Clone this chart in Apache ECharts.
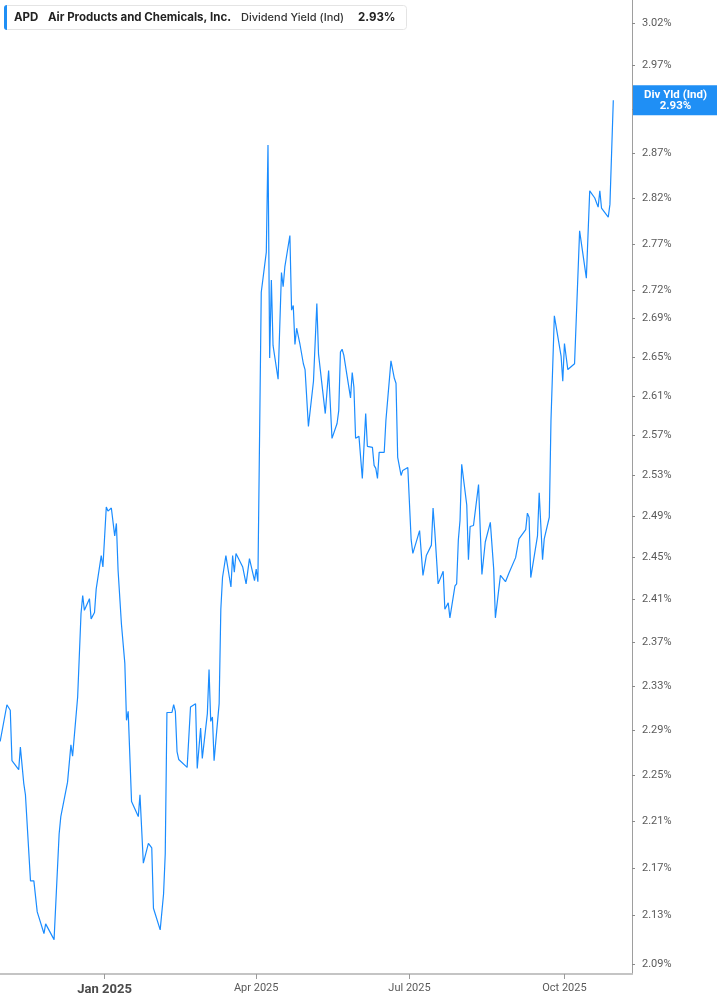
<!DOCTYPE html>
<html><head><meta charset="utf-8">
<script src="https://cdn.jsdelivr.net/npm/echarts@6/dist/echarts.min.js"></script>
<style>html,body{margin:0;padding:0;background:#fff}#c{width:717px;height:1005px}</style>
</head><body><div id="c"></div>
<script>
const ticker = 'APD';
const company = 'Air Products and Chemicals, Inc.';
const metric = 'Dividend Yield (Ind)';
const tagTitle = 'Div Yld (Ind)';

const dates = [
'2024-10-31','2024-11-04','2024-11-06','2024-11-07','2024-11-11','2024-11-12','2024-11-14','2024-11-15','2024-11-18','2024-11-20',
'2024-11-22','2024-11-26','2024-11-27','2024-12-02','2024-12-05','2024-12-06','2024-12-10','2024-12-12','2024-12-13','2024-12-16',
'2024-12-18','2024-12-19','2024-12-20','2024-12-23','2024-12-24','2024-12-26','2024-12-27','2024-12-30','2024-12-31','2025-01-02',
'2025-01-03','2025-01-05','2025-01-07','2025-01-08','2025-01-09','2025-01-11','2025-01-13','2025-01-14','2025-01-15','2025-01-17',
'2025-01-21','2025-01-22','2025-01-24','2025-01-27','2025-01-29','2025-01-30','2025-01-31','2025-02-03','2025-02-05','2025-02-06',
'2025-02-07','2025-02-10','2025-02-11','2025-02-12','2025-02-13','2025-02-14','2025-02-19','2025-02-21','2025-02-24','2025-02-25',
'2025-02-27','2025-02-28','2025-03-03','2025-03-04','2025-03-05','2025-03-06','2025-03-07','2025-03-10','2025-03-11','2025-03-12',
'2025-03-14','2025-03-17','2025-03-18','2025-03-19','2025-03-20','2025-03-24','2025-03-25','2025-03-26','2025-03-27','2025-03-28',
'2025-03-31','2025-04-01','2025-04-02','2025-04-04','2025-04-07','2025-04-08','2025-04-09','2025-04-10','2025-04-11','2025-04-14',
'2025-04-16','2025-04-17','2025-04-18','2025-04-21','2025-04-22','2025-04-23','2025-04-24','2025-04-25','2025-04-27','2025-04-29',
'2025-04-30','2025-05-02','2025-05-05','2025-05-07','2025-05-08','2025-05-12','2025-05-14','2025-05-16','2025-05-19','2025-05-20',
'2025-05-21','2025-05-22','2025-05-23','2025-05-27','2025-05-28','2025-05-29','2025-05-30','2025-06-01','2025-06-03','2025-06-05',
'2025-06-06','2025-06-09','2025-06-10','2025-06-11','2025-06-12','2025-06-13','2025-06-16','2025-06-17','2025-06-20','2025-06-22',
'2025-06-23','2025-06-24','2025-06-26','2025-06-27','2025-06-30','2025-07-02','2025-07-03','2025-07-07','2025-07-09','2025-07-10',
'2025-07-11','2025-07-14','2025-07-15','2025-07-16','2025-07-18','2025-07-21','2025-07-22','2025-07-24','2025-07-25','2025-07-28',
'2025-07-29','2025-07-30','2025-07-31','2025-08-01','2025-08-04','2025-08-05','2025-08-06','2025-08-08','2025-08-11','2025-08-13',
'2025-08-15','2025-08-18','2025-08-20','2025-08-21','2025-08-24','2025-08-25','2025-08-27','2025-08-29','2025-09-02','2025-09-04',
'2025-09-08','2025-09-09','2025-09-10','2025-09-11','2025-09-15','2025-09-16','2025-09-18','2025-09-19','2025-09-22','2025-09-23',
'2025-09-25','2025-09-29','2025-09-30','2025-10-01','2025-10-03','2025-10-07','2025-10-10','2025-10-14','2025-10-16','2025-10-19',
'2025-10-21','2025-10-22','2025-10-23','2025-10-24','2025-10-27','2025-10-28','2025-10-30'
];

const yields = [
2.280,2.313,2.308,2.263,2.255,2.275,2.243,2.233,2.159,2.159,
2.133,2.115,2.123,2.110,2.199,2.214,2.244,2.277,2.267,2.320,
2.397,2.414,2.400,2.411,2.392,2.398,2.420,2.452,2.441,2.499,
2.495,2.498,2.471,2.483,2.438,2.387,2.351,2.299,2.307,2.227,
2.214,2.233,2.174,2.191,2.187,2.136,2.135,2.118,2.148,2.182,
2.306,2.306,2.313,2.307,2.271,2.264,2.257,2.311,2.314,2.256,
2.292,2.265,2.305,2.345,2.298,2.302,2.263,2.314,2.401,2.431,
2.452,2.422,2.452,2.436,2.454,2.441,2.442,2.425,2.426,2.449,
2.428,2.439,2.427,2.718,2.761,2.879,2.649,2.731,2.662,2.627,
2.739,2.724,2.745,2.779,2.699,2.704,2.663,2.680,2.663,2.643,
2.637,2.579,2.625,2.706,2.653,2.592,2.636,2.567,2.582,2.595,
2.655,2.658,2.652,2.608,2.634,2.619,2.567,2.569,2.527,2.592,
2.559,2.558,2.540,2.537,2.527,2.553,2.553,2.585,2.646,2.628,
2.623,2.548,2.530,2.535,2.538,2.467,2.454,2.476,2.433,2.434,
2.452,2.462,2.498,2.476,2.425,2.437,2.401,2.407,2.393,2.423,
2.425,2.467,2.486,2.541,2.501,2.448,2.480,2.481,2.521,2.434,
2.465,2.484,2.439,2.393,2.433,2.434,2.427,2.435,2.450,2.468,
2.477,2.493,2.489,2.431,2.471,2.513,2.448,2.468,2.489,2.585,
2.693,2.651,2.625,2.664,2.637,2.643,2.784,2.733,2.828,2.820,
2.810,2.828,2.809,2.809,2.799,2.813,2.930
];

const yTicks = [2.09,2.13,2.17,2.21,2.25,2.29,2.33,2.37,2.41,2.45,2.49,2.53,2.57,2.61,2.65,2.69,2.72,2.77,2.82,2.87,2.92,2.97,3.02];
const xTickDates = ['2025-01-01','2025-04-01','2025-07-01','2025-10-01'];
const xRange = ['2024-10-30 21:36','2025-11-10 02:24'];
const yRange = [2.0818, 3.0471];

const monthNames = ['Jan','Feb','Mar','Apr','May','Jun','Jul','Aug','Sep','Oct','Nov','Dec'];
const P = s => +echarts.time.parse(s);
const xTicks = xTickDates.map(P);
const last = yields[yields.length - 1];
const blue = '#1a8cff';
const tagBlue = '#1f8ff5';

const chart = echarts.init(document.getElementById('c'), null, {renderer: 'canvas'});
chart.setOption({
  animation: false,
  grid: {left: 0, right: 85, top: 0, bottom: 31, containLabel: false},
  xAxis: {
    type: 'value', min: P(xRange[0]), max: P(xRange[1]),
    axisLine: {show: true, lineStyle: {color: '#c4c4c4', width: 2}},
    axisTick: {show: true, customValues: xTicks, length: 5, lineStyle: {color: '#9a9a9a', width: 1}},
    axisLabel: {
      customValues: xTicks, color: '#5a5a5a', fontSize: 11, fontFamily: 'Roboto', margin: 9,
      formatter: v => { const d = new Date(v); const s = monthNames[d.getMonth()] + ' ' + d.getFullYear(); return d.getMonth() === 0 ? '{y|' + s + '}' : s; },
      rich: {y: {fontWeight: 'bold', fontSize: 13, color: '#4a4a4a', fontFamily: 'Roboto'}}
    },
    splitLine: {show: false}
  },
  yAxis: {
    type: 'log', logBase: 10, position: 'right', min: yRange[0], max: yRange[1],
    axisLine: {show: true, lineStyle: {color: '#9e9e9e', width: 1}},
    axisTick: {show: true, customValues: yTicks, length: 3, lineStyle: {color: '#8a8a8a'}},
    axisLabel: {customValues: yTicks, formatter: v => (+v).toFixed(2) + '%', color: '#5a5a5a', fontSize: 11, fontFamily: 'Roboto', margin: 10},
    splitLine: {show: false}
  },
  series: [{
    type: 'line', data: dates.map((d, i) => [P(d), yields[i]]),
    showSymbol: false, symbol: 'none',
    lineStyle: {color: blue, width: 1.2},
    markLine: {
      silent: true, symbol: ['none', 'none'], animation: false,
      lineStyle: {color: 'rgba(0,0,0,0)', width: 0},
      label: {
        show: true, position: 'end', distance: 1,
        backgroundColor: tagBlue, padding: [4, 0, 4, 0],
        formatter: p => '{a|' + tagTitle + '}\n{a|' + (+p.value).toFixed(2) + '%}',
        rich: {a: {width: 85, align: 'center', color: '#fff', fontWeight: 'bold', fontSize: 11.5, lineHeight: 11, fontFamily: 'Roboto'}}
      },
      data: [{yAxis: last}]
    }
  }],
  graphic: [
    {type: 'rect', x: 4.5, y: 5.5, shape: {width: 402, height: 24, r: 3}, style: {fill: '#fff', stroke: '#e4e4e4', lineWidth: 1}, z: 100},
    {type: 'rect', x: 4, y: 5, shape: {width: 3, height: 25, r: [3, 0, 0, 3]}, style: {fill: tagBlue}, z: 101},
    {type: 'text', x: 14, y: 17.5, style: {text: ticker, font: 'bold 11.5px Inter', fill: '#222', verticalAlign: 'middle'}, z: 101},
    {type: 'text', x: 48, y: 17.5, style: {text: company, font: 'bold 11.5px Inter', fill: '#222', verticalAlign: 'middle'}, z: 101},
    {type: 'text', x: 241, y: 17.5, style: {text: metric, font: '500 11px Inter', fill: '#333', verticalAlign: 'middle'}, z: 101},
    {type: 'text', x: 358, y: 17.5, style: {text: last.toFixed(2) + '%', font: 'bold 11.5px Inter', fill: '#222', verticalAlign: 'middle'}, z: 101}
  ]
});
</script></body></html>
